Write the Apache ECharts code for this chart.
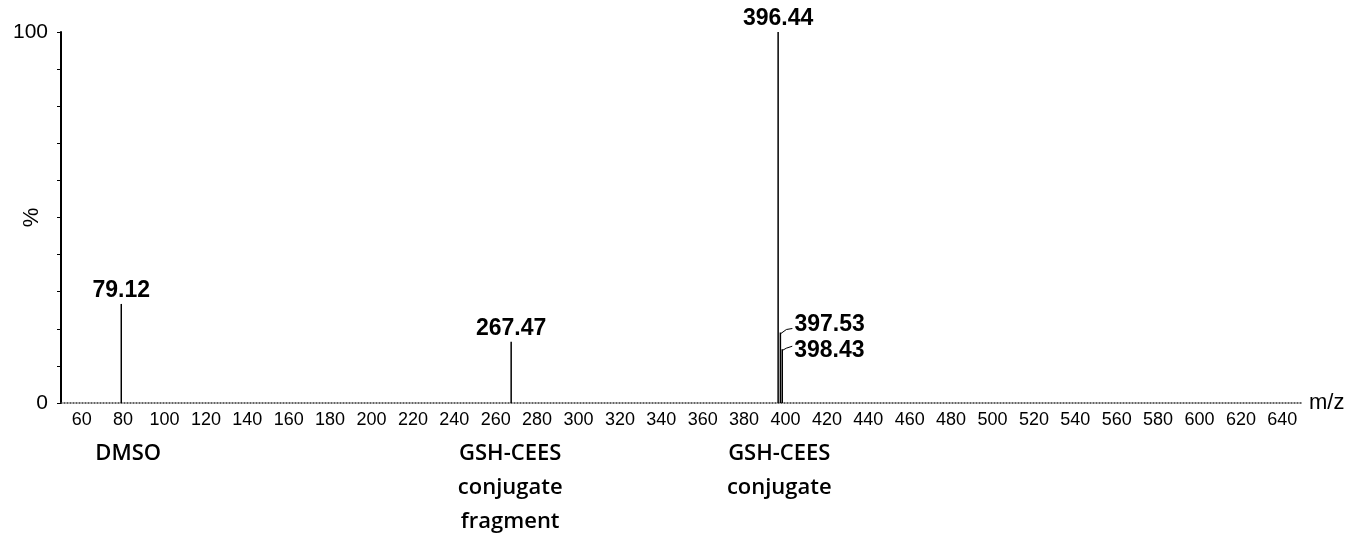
<!DOCTYPE html>
<html>
<head>
<meta charset="utf-8">
<script src="https://cdn.jsdelivr.net/npm/echarts@6/dist/echarts.min.js"></script>
<style>
html,body{margin:0;padding:0;background:#fff;}
#chart{width:1368px;height:539px;}
</style>
</head>
<body>
<div id="chart"></div>
<script>
// Data
var peakMz = [79.12, 267.47, 396.44, 397.53, 398.43];
var peakIntensity = [26.7, 16.5, 100, 19.0, 14.5];
var peakLabels = ['79.12', '267.47', '396.44', '397.53', '398.43'];
var annotationMz = [82.5, 267, 397];
var annotationTexts = ['DMSO', 'GSH-CEES\nconjugate\nfragment', 'GSH-CEES\nconjugate'];
var yTickLabels = [0, 100];

var chart = echarts.init(document.getElementById('chart'));

var labelMode = ['top', 'top', 'top', 'side1', 'side2'];

var peakData = peakMz.map(function (m, i) { return [m, peakIntensity[i], i]; });
var annData = annotationMz.map(function (m, i) { return [m, 0, i]; });

var option = {
  animation: false,
  backgroundColor: '#ffffff',
  grid: { left: 61, right: 65, top: 32, bottom: 136, containLabel: false, outerBoundsMode: 'none' },
  xAxis: {
    type: 'value',
    min: 50,
    max: 650,
    interval: 10,
    name: 'm/z',
    nameLocation: 'end',
    nameGap: 6,
    nameTextStyle: { fontFamily: 'Liberation Sans, Arial', fontSize: 22, color: '#000', verticalAlign: 'middle', padding: [0, 0, 8, 0] },
    axisLine: { show: true, lineStyle: { color: '#333', width: 1.5, type: [1, 2] } },
    axisTick: { show: false },
    splitLine: { show: false },
    axisLabel: {
      margin: 8,
      fontFamily: 'Liberation Sans, Arial',
      fontSize: 18,
      color: '#000',
      formatter: function (v) { return (v % 20 === 0) ? String(v) : ''; }
    }
  },
  yAxis: {
    type: 'value',
    min: 0,
    max: 100,
    interval: 10,
    name: '%',
    nameLocation: 'middle',
    nameGap: 18,
    nameMoveOverlap: false,
    nameRotate: 90,
    nameTextStyle: { fontFamily: 'Liberation Sans, Arial', fontSize: 22, color: '#000' },
    axisLine: { show: true, lineStyle: { color: '#000', width: 2 } },
    axisTick: { show: true, inside: false, length: 4, lineStyle: { color: '#000', width: 1 } },
    splitLine: { show: false },
    axisLabel: {
      margin: 13,
      fontFamily: 'Liberation Sans, Arial',
      fontSize: 21,
      color: '#000',
      formatter: function (v) { return yTickLabels.indexOf(v) >= 0 ? String(v) : ''; }
    }
  },
  series: [
    {
      type: 'custom',
      clip: false,
      data: peakData,
      renderItem: function (params, api) {
        var i = api.value(2);
        var top = api.coord([api.value(0), api.value(1)]);
        var base = api.coord([api.value(0), 0]);
        var children = [{
          type: 'line',
          shape: { x1: base[0], y1: base[1], x2: top[0], y2: top[1] },
          style: { stroke: '#000', lineWidth: 1.5 }
        }];
        var font = 'bold 23px "Liberation Sans", Arial';
        var mode = labelMode[i];
        if (mode === 'top') {
          children.push({
            type: 'text',
            style: { text: peakLabels[i], x: top[0], y: top[1] - 2, align: 'center', verticalAlign: 'bottom', font: font, fill: '#000' }
          });
        } else if (mode === 'side1') {
          children.push({
            type: 'polyline',
            shape: { points: [[top[0] + 0.5, top[1] + 1], [top[0] + 6, top[1] - 3], [top[0] + 12, top[1] - 4]] },
            style: { stroke: '#000', lineWidth: 1, fill: null }
          });
          children.push({
            type: 'text',
            style: { text: peakLabels[i], x: top[0] + 14, y: top[1] - 8, align: 'left', verticalAlign: 'middle', font: font, fill: '#000' }
          });
        } else {
          children.push({
            type: 'polyline',
            shape: { points: [[top[0] + 0.5, top[1] + 1], [top[0] + 4, top[1] - 1], [top[0] + 10, top[1] - 3]] },
            style: { stroke: '#000', lineWidth: 1, fill: null }
          });
          children.push({
            type: 'text',
            style: { text: peakLabels[i], x: top[0] + 12, y: top[1] + 1, align: 'left', verticalAlign: 'middle', font: font, fill: '#000' }
          });
        }
        return { type: 'group', children: children };
      }
    },
    {
      type: 'custom',
      clip: false,
      silent: true,
      data: annData,
      renderItem: function (params, api) {
        var i = api.value(2);
        var p = api.coord([api.value(0), 0]);
        return {
          type: 'text',
          style: {
            text: annotationTexts[i],
            x: p[0],
            y: p[1] + 34,
            align: 'center',
            verticalAlign: 'top',
            font: '600 22px "Open Sans", "Noto Sans", sans-serif',
            lineHeight: 34,
            fill: '#000'
          }
        };
      }
    }
  ]
};

chart.setOption(option);
</script>
</body>
</html>
